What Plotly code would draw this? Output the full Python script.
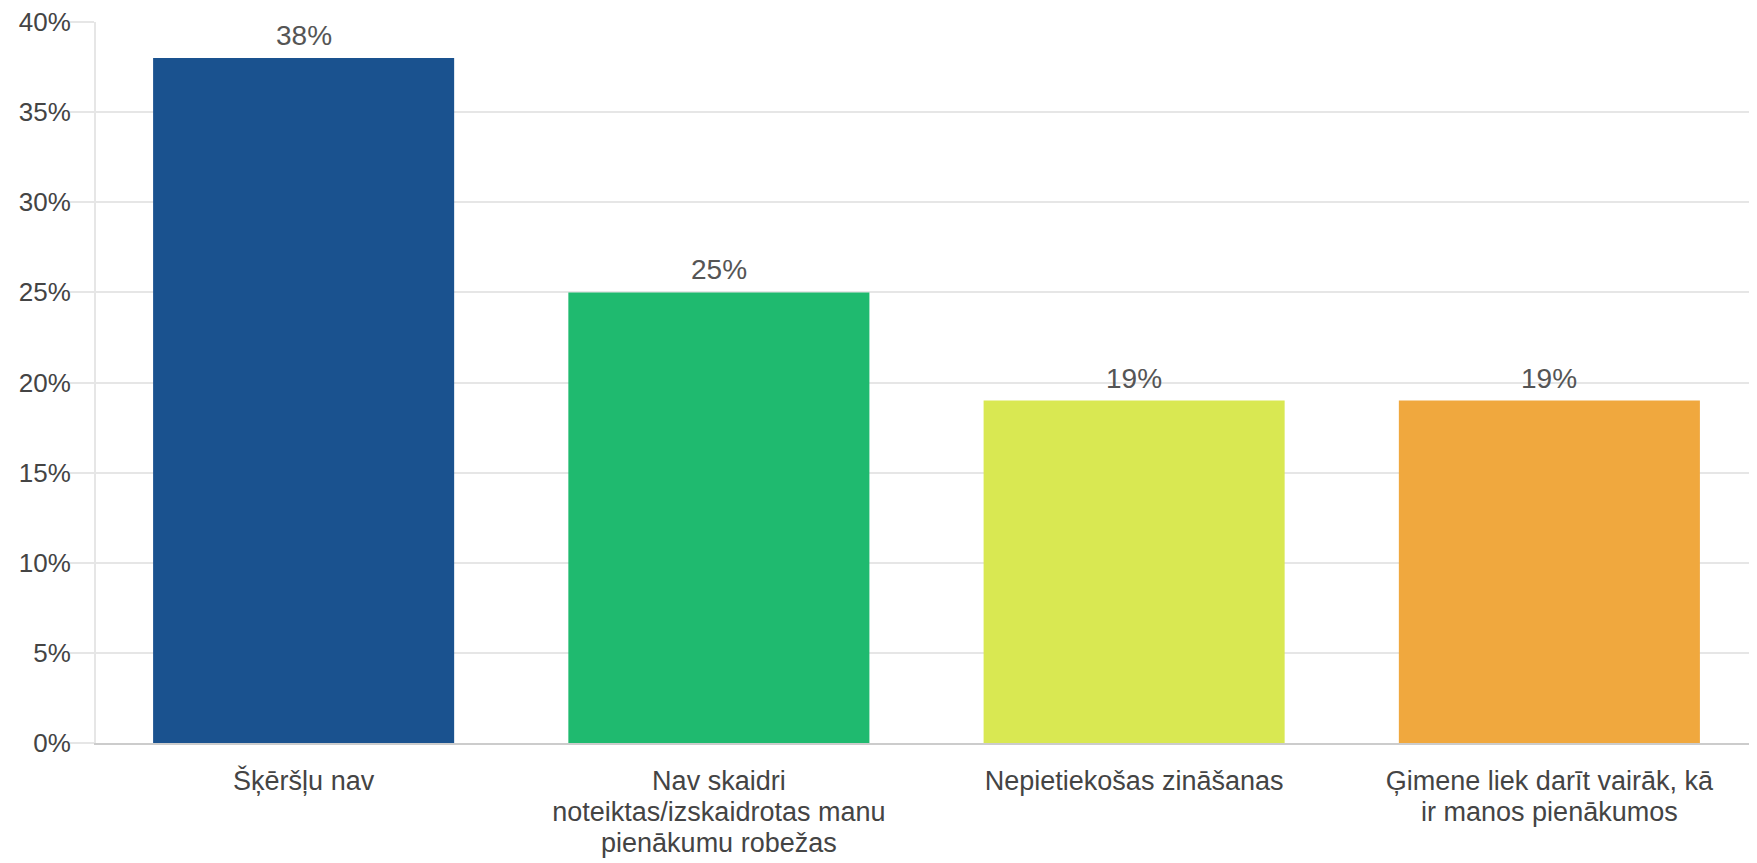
import plotly.graph_objects as go

categories = [
    "Šķēršļu nav",
    "Nav skaidri<br>noteiktas/izskaidrotas manu<br>pienākumu robežas",
    "Nepietiekošas zināšanas",
    "Ģimene liek darīt vairāk, kā<br>ir manos pienākumos",
]
values = [38, 25, 19, 19]
labels = ["38%", "25%", "19%", "19%"]
colors = ["#1a528f", "#1fba6f", "#d9e852", "#f0a83e"]

y_ticks = [0, 5, 10, 15, 20, 25, 30, 35, 40]
y_tick_labels = ["0%", "5%", "10%", "15%", "20%", "25%", "30%", "35%", "40%"]

# bigger glyphs than the base tick font, so the lines stay tight
x_labels = ['<span style="font-size:27px">' + c + "</span>" for c in categories]

fig = go.Figure()
fig.add_trace(
    go.Bar(
        x=x_labels,
        y=values,
        marker=dict(color=colors, line=dict(width=0)),
        width=0.725,
        hoverinfo="y",
    )
)

# value labels above the bars
for cat, val, lab in zip(x_labels, values, labels):
    fig.add_annotation(
        x=cat, y=val, text=lab,
        showarrow=False, yanchor="bottom", yshift=5,
        font=dict(family="Liberation Sans, Arial", size=28, color="#555555"),
    )

# page body has an 8px margin, so the figure is a bit smaller than the window
fig.update_layout(
    width=1749,
    height=855,
    margin=dict(l=88, r=0, t=14, b=120),
    paper_bgcolor="white",
    plot_bgcolor="white",
    showlegend=False,
    font=dict(family="Liberation Sans, Arial", size=26, color="#444444"),
)
fig.update_yaxes(
    range=[0, 40],
    tickvals=y_ticks,
    ticktext=y_tick_labels,
    showgrid=True,
    gridcolor="#e6e6e6",
    gridwidth=2,
    ticks="outside",
    ticklen=24,
    tickcolor="#e6e6e6",
    tickwidth=2,
    ticklabelstandoff=-6,
    ticklabeloverflow="allow",
    zeroline=False,
    showline=True,
    linecolor="#e6e6e6",
    linewidth=2,
    automargin=False,
    tickfont=dict(size=26, color="#444444"),
)
fig.update_xaxes(
    showgrid=False,
    ticks="outside",
    ticklen=16,
    tickcolor="rgba(0,0,0,0)",
    showline=True,
    linecolor="#cccccc",
    linewidth=2,
    automargin=False,
    ticklabeloverflow="allow",
    tickfont=dict(size=24, color="#444444"),
    tickangle=0,
)

fig.write_html("out.html")
